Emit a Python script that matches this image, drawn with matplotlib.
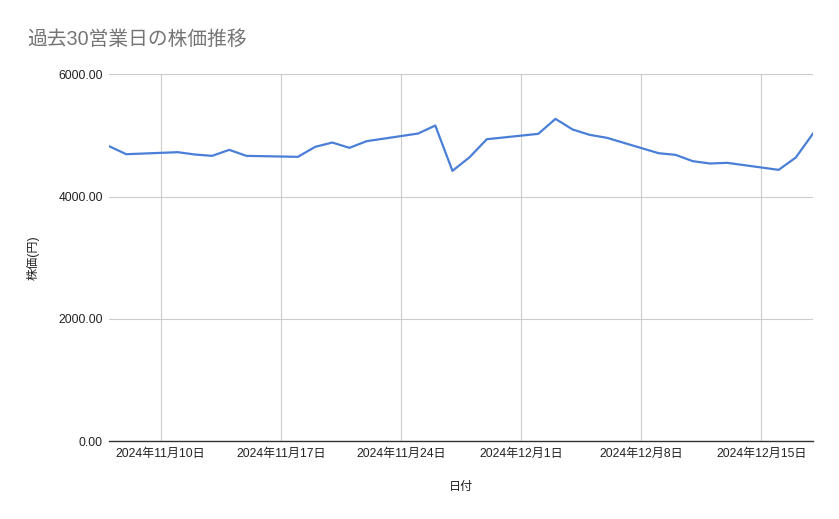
import numpy as np
import pandas as pd
import matplotlib
matplotlib.use('agg')
import matplotlib.pyplot as plt
import matplotlib.dates as mdates

plt.rcParams['font.family'] = ['Liberation Sans', 'Noto Sans CJK JP', 'DejaVu Sans']

# business days, 2024-11-07 .. 2024-12-18
dates = pd.bdate_range('2024-11-07', '2024-12-18')
prices = [4823, 4692, 4725, 4687, 4665, 4763, 4665,
          4649, 4812, 4883, 4796, 4905,
          5030, 5161, 4420, 4643, 4937,
          5025, 5270, 5096, 5008, 4960,
          4709, 4681, 4578, 4540, 4551,
          4436, 4638, 5030]
yticks = [0, 2000, 4000, 6000]
title = '過去30営業日の株価推移'
xlabel = '日付'
ylabel = '株価(円)'

fig = plt.figure(figsize=(8.39, 5.19), dpi=100)
ax = fig.add_axes([0.130, 0.150, 0.839, 0.707])

ax.plot(dates, prices, color='#4a7fd8', lw=1.6)

ax.set_ylim(0, 6000)
ax.set_yticks(yticks)
ax.set_yticklabels(['%.2f' % v for v in yticks])
ax.set_xlim(dates[0], dates[-1])
ax.xaxis.set_major_locator(mdates.WeekdayLocator(byweekday=mdates.SU))
ax.xaxis.set_major_formatter(
    plt.FuncFormatter(lambda v, p: '{0.year}年{0.month}月{0.day}日'.format(mdates.num2date(v))))

ax.grid(True, color='#cccccc', lw=0.8)
ax.set_axisbelow(True)
for s in ['top', 'right', 'left']:
    ax.spines[s].set_visible(False)
ax.spines['bottom'].set_color('#333333')
ax.spines['bottom'].set_linewidth(1.0)
ax.tick_params(length=0, labelsize=8.7, colors='#222222')
ax.tick_params(axis='x', pad=5)
ax.tick_params(axis='y', pad=4.5)

ax.set_xlabel(xlabel, fontsize=8.7, color='#222222', labelpad=15)
ax.set_ylabel(ylabel, fontsize=8.7, color='#222222', labelpad=13.5)

fig.text(0.032, 0.924, title, fontsize=14.2, color='#757575', va='center', ha='left')

fig.savefig('out.png', dpi=100)
